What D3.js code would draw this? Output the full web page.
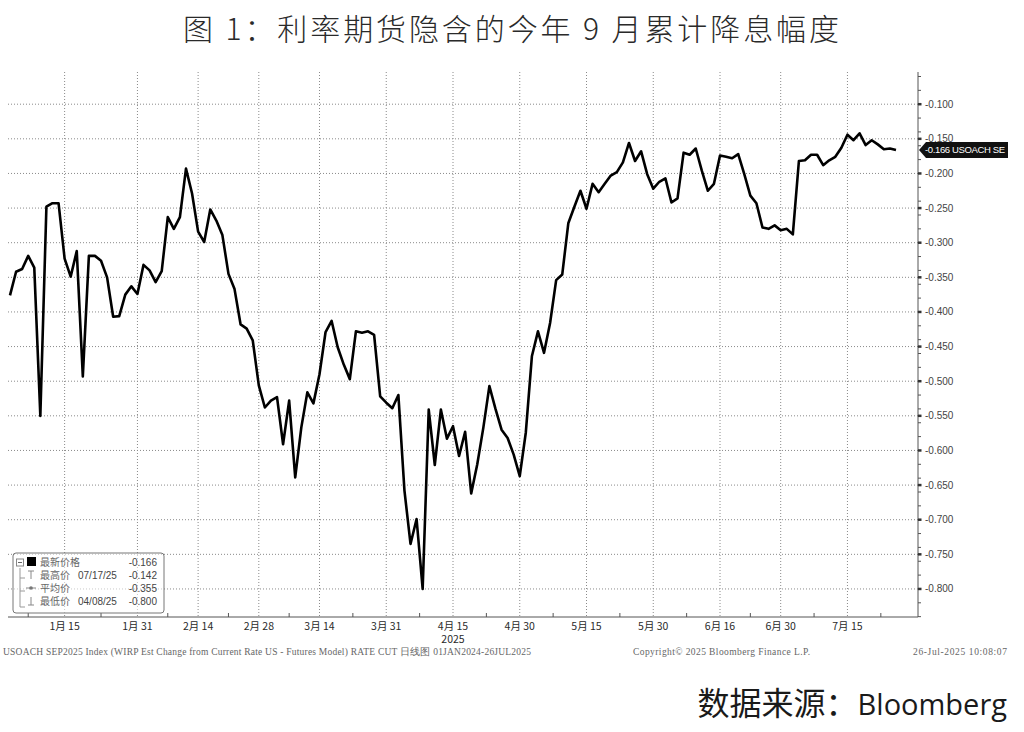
<!DOCTYPE html>
<html>
<head>
<title>图 1：利率期货隐含的今年 9 月累计降息幅度</title>
<meta charset="utf-8">
<style>
    body { margin : 0; background : #fff; }
    .grid {
        fill : none;
        stroke : #8a8a8a;
        stroke-width : 1;
        stroke-dasharray : 1,2;
    }
    .axisline {
        fill : none;
        stroke : #555;
        stroke-width : 1;
    }
    .rateline {
        fill : none;
        stroke : #000;
        stroke-width : 2.6;
        stroke-linejoin : round;
    }
    .ylab { font-family : "Liberation Sans", sans-serif; font-size : 10px; fill : #444; }
    .xlab { font-family : "Noto Sans CJK SC", sans-serif; font-size : 10.5px; fill : #2a2a2a; }
    .foot { font-family : "Liberation Serif", serif; font-size : 9.5px; fill : #666; }
    .leg  { font-family : "Noto Sans CJK SC", sans-serif; font-size : 10px; fill : #666; }
    .legnum { font-family : "Liberation Sans", sans-serif; font-size : 10px; fill : #444; }
</style>
</head>
<body>
<script src="https://cdn.jsdelivr.net/npm/d3@7"></script>
<script>

// USOACH SEP2025 index, one value per weekday from firstDay to lastDay
var firstDay = "2025-01-02", lastDay = "2025-07-25";
var rateCut = [
    -0.376, -0.342, -0.338, -0.319, -0.336, -0.550, -0.248, -0.243, -0.243, -0.323,
    -0.349, -0.312, -0.493, -0.319, -0.319, -0.326, -0.350, -0.407, -0.406, -0.375,
    -0.363, -0.374, -0.332, -0.340, -0.357, -0.341, -0.263, -0.280, -0.263, -0.193,
    -0.229, -0.284, -0.299, -0.252, -0.268, -0.289, -0.345, -0.367, -0.418, -0.424,
    -0.441, -0.506, -0.538, -0.528, -0.523, -0.591, -0.528, -0.639, -0.567, -0.516,
    -0.532, -0.490, -0.429, -0.413, -0.451, -0.476, -0.497, -0.428, -0.430, -0.428,
    -0.433, -0.522, -0.531, -0.539, -0.520, -0.658, -0.735, -0.699, -0.800, -0.541,
    -0.621, -0.541, -0.583, -0.565, -0.608, -0.573, -0.662, -0.620, -0.567, -0.507,
    -0.540, -0.570, -0.582, -0.606, -0.637, -0.574, -0.464, -0.428, -0.459, -0.416,
    -0.354, -0.346, -0.272, -0.248, -0.225, -0.251, -0.215, -0.227, -0.215, -0.203,
    -0.198, -0.184, -0.156, -0.182, -0.168, -0.201, -0.222, -0.212, -0.207, -0.242,
    -0.236, -0.170, -0.173, -0.164, -0.196, -0.225, -0.215, -0.174, -0.176, -0.178,
    -0.172, -0.201, -0.232, -0.243, -0.278, -0.280, -0.275, -0.282, -0.280, -0.288,
    -0.182, -0.181, -0.173, -0.173, -0.188, -0.181, -0.176, -0.163, -0.144, -0.152,
    -0.142, -0.159, -0.152, -0.158, -0.165, -0.164, -0.166
];

var tickDates  = ["2025-01-15", "2025-01-31", "2025-02-14", "2025-02-28", "2025-03-14", "2025-03-31",
                  "2025-04-15", "2025-04-30", "2025-05-15", "2025-05-30", "2025-06-16", "2025-06-30", "2025-07-15"];
var tickLabels = ["1月 15", "1月 31", "2月 14", "2月 28", "3月 14", "3月 31",
                  "4月 15", "4月 30", "5月 15", "5月 30", "6月 16", "6月 30", "7月 15"];
var yearLabel = "2025", yearDate = "2025-04-15";
var yTicks = [-0.100, -0.150, -0.200, -0.250, -0.300, -0.350, -0.400, -0.450,
              -0.500, -0.550, -0.600, -0.650, -0.700, -0.750, -0.800];

var legendNames  = ["最新价格", "最高价", "平均价", "最低价"];
var legendDates  = ["", "07/17/25", "", "04/08/25"];
var legendValues = ["-0.166", "-0.142", "-0.355", "-0.800"];
var lastLabel = "-0.166 USOACH SE";

var titleText  = "图 1：利率期货隐含的今年 9 月累计降息幅度";
var sourceCn = "数据来源：", sourceEn = "Bloomberg";
var footLeft  = "USOACH SEP2025 Index (WIRP Est Change from Current Rate US - Futures Model) RATE CUT   日线图 01JAN2024-26JUL2025";
var footMid   = "Copyright© 2025 Bloomberg Finance L.P.";
var footRight = "26-Jul-2025 10:08:07";

var SVGwidth = 1024, SVGheight = 732;
var plotLeft = 8, plotRight = 918, plotTop = 72, plotBottom = 617;

//weekday index counted from the first day (the x axis skips weekends)
var parse = d3.timeParse("%Y-%m-%d");
var day0 = parse(firstDay);
function weekdayIndex(s) {
    return d3.timeDay.range(day0, parse(s)).filter(function(d) {
        var w = d.getDay(); return w > 0 && w < 6; }).length;
}

var x = d3.scaleLinear().domain([0, weekdayIndex(lastDay)]).range([10, 896]);
var y = d3.scaleLinear().domain([-0.8405, -0.0535]).range([plotBottom, plotTop]);
var fmt = d3.formatLocale({decimal: ".", thousands: ",", grouping: [3], currency: ["", ""], minus: "-"}).format(".3f");

var svg = d3.select("body").append("svg")
        .attr("width", SVGwidth)
        .attr("height", SVGheight);

//title
svg.append("text")
        .attr("x", 511).attr("y", 40)
        .attr("text-anchor", "middle")
        .attr("textLength", 656)
        .style("font-family", "'Noto Sans CJK SC', sans-serif")
        .style("font-size", "30px")
        .style("font-weight", 300)
        .style("fill", "#2a2a2a")
        .text(titleText);

//grid
svg.append("g").selectAll("line")
        .data(yTicks)
        .enter().append("line")
        .attr("class", "grid")
        .attr("x1", plotLeft).attr("x2", plotRight)
        .attr("y1", function(d) { return y(d); })
        .attr("y2", function(d) { return y(d); });

var tickIdx = tickDates.map(weekdayIndex);
svg.append("g").selectAll("line")
        .data(tickIdx)
        .enter().append("line")
        .attr("class", "grid")
        .attr("x1", function(d) { return x(d); })
        .attr("x2", function(d) { return x(d); })
        .attr("y1", plotTop).attr("y2", plotBottom);

//axes lines
svg.append("path")
        .attr("class", "axisline")
        .attr("d", "M" + plotLeft + "," + plotBottom + "H" + plotRight + "V" + plotTop);

//right axis ticks + labels
var minorY = y.ticks(32).filter(function(d) { return yTicks.indexOf(+d.toFixed(3)) < 0; });
svg.append("g").selectAll("line")
        .data(minorY)
        .enter().append("line")
        .attr("class", "axisline")
        .attr("x1", plotRight).attr("x2", plotRight + 3)
        .attr("y1", function(d) { return y(d); })
        .attr("y2", function(d) { return y(d); });
svg.append("g").selectAll("line")
        .data(yTicks)
        .enter().append("line")
        .style("stroke", "#333").style("stroke-width", 2.5)
        .attr("x1", plotRight).attr("x2", plotRight + 3.5)
        .attr("y1", function(d) { return y(d); })
        .attr("y2", function(d) { return y(d); });
svg.append("g").selectAll("text")
        .data(yTicks)
        .enter().append("text")
        .attr("class", "ylab")
        .attr("x", plotRight + 7)
        .attr("y", function(d) { return y(d) + 3.5; })
        .text(fmt);

//bottom axis: minor ticks half way between labels
var minorX = [tickIdx[0] - (tickIdx[1] - tickIdx[0]) / 2];
for (var i = 1; i < tickIdx.length; i++) minorX.push((tickIdx[i] + tickIdx[i - 1]) / 2);
minorX.push(tickIdx[tickIdx.length - 1] + (tickIdx[tickIdx.length - 1] - tickIdx[tickIdx.length - 2]) / 2);
svg.append("g").selectAll("line")
        .data(minorX)
        .enter().append("line")
        .attr("class", "axisline")
        .attr("x1", function(d) { return x(d); })
        .attr("x2", function(d) { return x(d); })
        .attr("y1", plotBottom).attr("y2", plotBottom - 4);

svg.append("g").selectAll("text")
        .data(tickLabels)
        .enter().append("text")
        .attr("class", "xlab")
        .attr("text-anchor", "middle")
        .attr("x", function(d, i) { return x(tickIdx[i]); })
        .attr("y", 630)
        .text(function(d) { return d; });
svg.append("text")
        .attr("class", "xlab")
        .attr("text-anchor", "middle")
        .attr("x", x(weekdayIndex(yearDate)))
        .attr("y", 643)
        .text(yearLabel);

//the series
var line = d3.line()
        .x(function(d, i) { return x(i); })
        .y(function(d) { return y(d); });
svg.append("path")
        .datum(rateCut)
        .attr("class", "rateline")
        .attr("d", line);

//last value tag
var lastY = y(rateCut[rateCut.length - 1]);
svg.append("path")
        .attr("d", "M" + (plotRight + 1) + "," + lastY + "L" + (plotRight + 8) + "," + (lastY - 8) +
                   "H1008V" + (lastY + 8) + "H" + (plotRight + 8) + "Z")
        .style("fill", "#111");
svg.append("text")
        .attr("x", plotRight + 7).attr("y", lastY + 3.5)
        .attr("textLength", 80)
        .style("font-family", "'Liberation Sans', sans-serif")
        .style("font-size", "9.5px")
        .style("fill", "#fff")
        .text(lastLabel);

//legend box
var leg = svg.append("g");
leg.append("rect")
        .attr("x", 13).attr("y", 553).attr("width", 151).attr("height", 60).attr("rx", 3)
        .style("fill", "#fff").style("fill-opacity", 0.55)
        .style("stroke", "#777").style("stroke-width", 1);
var rowY = [566, 579, 592, 605];
leg.append("path")
        .attr("d", "M20," + (rowY[0] + 2) + "V" + (rowY[3] + 2) + "H25M20," + (rowY[1] - 1) + "H25M20," + (rowY[2] - 1) + "H25")
        .style("fill", "none").style("stroke", "#999");
leg.append("rect").attr("x", 16.5).attr("y", rowY[0] - 7).attr("width", 7).attr("height", 7)
        .style("fill", "#fff").style("stroke", "#888");
leg.append("line").attr("x1", 18).attr("x2", 22).attr("y1", rowY[0] - 3.5).attr("y2", rowY[0] - 3.5)
        .style("stroke", "#666");
leg.append("rect").attr("x", 27).attr("y", rowY[0] - 9).attr("width", 9).attr("height", 9)
        .style("fill", "#000");
leg.append("path")
        .attr("d", "M28," + (rowY[1] - 8) + "H34M31," + (rowY[1] - 8) + "V" + rowY[1] +
                   "M26," + (rowY[2] - 4) + "H36" +
                   "M31," + (rowY[3] - 8) + "V" + rowY[3] + "M28," + rowY[3] + "H34")
        .style("fill", "none").style("stroke", "#888").style("stroke-width", 1);
leg.append("circle").attr("cx", 31).attr("cy", rowY[2] - 4).attr("r", 1.8).style("fill", "#777");

leg.selectAll(".legname")
        .data(legendNames)
        .enter().append("text")
        .attr("class", "leg")
        .attr("x", 40)
        .attr("y", function(d, i) { return rowY[i]; })
        .text(function(d) { return d; });
leg.selectAll(".legdate")
        .data(legendDates)
        .enter().append("text")
        .attr("class", "legnum")
        .attr("x", 78)
        .attr("y", function(d, i) { return rowY[i]; })
        .text(function(d) { return d; });
leg.selectAll(".legval")
        .data(legendValues)
        .enter().append("text")
        .attr("class", "legnum")
        .attr("text-anchor", "end")
        .attr("x", 157)
        .attr("y", function(d, i) { return rowY[i]; })
        .text(function(d) { return d; });

//footer
svg.append("text").attr("class", "foot").attr("x", 3).attr("y", 655)
        .attr("textLength", 528).text(footLeft);
svg.append("text").attr("class", "foot").attr("x", 633).attr("y", 655)
        .attr("textLength", 177).text(footMid);
svg.append("text").attr("class", "foot").attr("x", 913).attr("y", 655)
        .attr("textLength", 94).text(footRight);

//source
var src = svg.append("text")
        .attr("x", 1007).attr("y", 715)
        .attr("text-anchor", "end")
        .style("fill", "#1a1a1a");
src.append("tspan")
        .style("font-family", "'Noto Sans CJK SC', sans-serif")
        .style("font-size", "32px")
        .text(sourceCn);
src.append("tspan")
        .style("font-family", "'Open Sans', sans-serif")
        .style("font-size", "29px")
        .text(sourceEn);

</script>
</body>
</html>
